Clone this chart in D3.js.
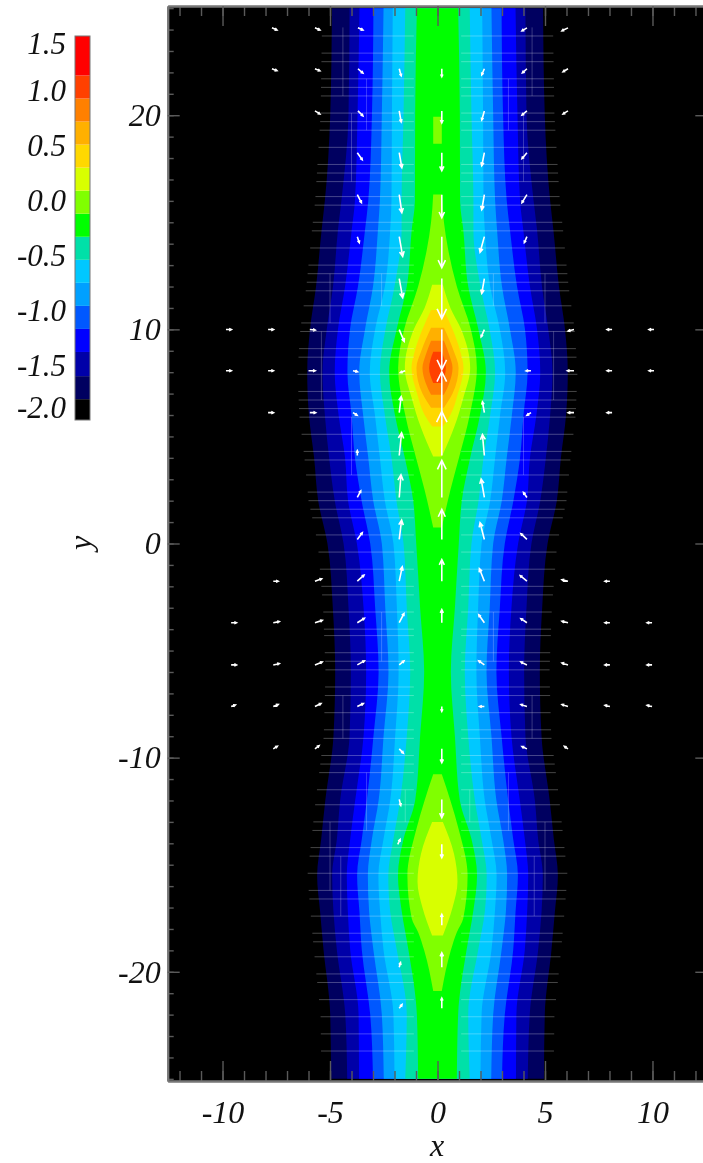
<!DOCTYPE html>
<html>
<head>
<meta charset="utf-8">
<script src="https://cdn.jsdelivr.net/npm/d3@7"></script>
<style>
  html, body { margin: 0; padding: 0; background: #fff; overflow: hidden; }
  svg { display: block; filter: blur(0.45px); }
  text { font-family: "Liberation Serif", serif; font-style: italic; fill: #111; }
</style>
</head>
<body>
<div id="chart"></div>
<script>
// Colour levels of the bar (lower edges of each band, then the top value)
const levelEdges = [-2, -1.81, -1.60, -1.38, -1.17, -0.96, -0.75, -0.54, -0.33, -0.12, 0.09, 0.30, 0.51, 0.72, 0.93, 1.14, 1.5];
const levelColors = ["#000000", "#000060", "#0000a8", "#0000ff", "#0058ff", "#00a0ff", "#00c8ff", "#00e0a8",
  "#00ff00", "#80ff00", "#d8ff00", "#ffd800", "#ffb000", "#ff8000", "#ff4000", "#ff0000"];
const colorTicks = [-2, -1.5, -1, -0.5, 0, 0.5, 1, 1.5];

// Contours running the whole height: half width at each row
const rowY = [25, 20, 16, 14.65, 12, 10, 8, 6, 4, 2, 0, -3, -6, -9, -12, -13.8, -15.5, -17.2, -19, -22, -25];
const edge1 = [4.91, 4.99, 5.24, 5.39, 5.65, 5.93, 6.06, 5.98, 5.74, 5.55, 5.12, 4.87, 4.76, 4.84, 5.22, 5.41, 5.60, 5.46, 5.30, 4.99, 4.95];
const edge2 = [4.09, 4.14, 4.47, 4.63, 4.86, 5.15, 5.35, 5.24, 5.04, 4.78, 4.37, 4.14, 4.03, 4.09, 4.53, 4.68, 4.90, 4.84, 4.68, 4.29, 4.20];
const edge3 = [3.63, 3.72, 3.84, 3.99, 4.30, 4.63, 4.78, 4.60, 4.30, 4.16, 3.75, 3.44, 3.32, 3.44, 3.83, 4.06, 4.22, 4.17, 4.06, 3.67, 3.65];
const edge4 = [2.98, 3.05, 3.22, 3.37, 3.70, 4.07, 4.19, 4.00, 3.84, 3.53, 3.13, 2.90, 2.74, 2.98, 3.29, 3.52, 3.74, 3.63, 3.52, 3.13, 3.00];
const edge5 = [2.51, 2.59, 2.68, 2.77, 3.00, 3.37, 3.64, 3.46, 3.22, 2.99, 2.59, 2.43, 2.28, 2.51, 2.74, 3.05, 3.24, 3.18, 2.98, 2.59, 2.50];
const edge6 = [2.08, 2.12, 2.14, 2.20, 2.45, 2.90, 3.15, 2.91, 2.68, 2.45, 2.05, 1.89, 1.81, 1.97, 2.20, 2.51, 2.75, 2.67, 2.51, 2.05, 2.00];
const edge7 = [1.50, 1.58, 1.67, 1.67, 2.00, 2.42, 2.68, 2.45, 2.14, 1.91, 1.58, 1.43, 1.27, 1.43, 1.74, 2.05, 2.29, 2.20, 1.89, 1.43, 1.50];
const edge8 = [0.96, 1.04, 1.05, 1.20, 1.43, 1.90, 2.25, 1.98, 1.52, 1.13, 0.99, 0.81, 0.62, 0.81, 1.04, 1.58, 1.84, 1.66, 1.35, 0.96, 0.90];

// Closed contours in the middle: rows and half widths
const lime1Y = [19.93, 18.67];
const lime1W = [0.2, 0.2];
const lime2Y = [16.3, 15, 13.7, 12, 10, 8.2, 6, 4, 2.5, 0.75];
const lime2W = [0.2, 0.3, 0.5, 0.9, 1.55, 1.83, 1.5, 1.0, 0.6, 0.2];
const lime3Y = [-10.78, -12, -13.4, -15.5, -17.5, -18.15, -19, -20.9];
const lime3W = [0.2, 0.6, 1.0, 1.4, 1.2, 0.9, 0.62, 0.2];
const yellow1Y = [12.08, 11, 10, 8.2, 6.8, 5.5, 4.06];
const yellow1W = [0.25, 0.6, 1.1, 1.52, 1.2, 0.8, 0.2];
const yellow2Y = [-13, -14.5, -15.8, -17, -18.3];
const yellow2W = [0.25, 0.77, 0.93, 0.7, 0.25];
const goldY = [10.9, 10, 9, 8.2, 7, 6, 5.46];
const goldW = [0.3, 0.7, 1.05, 1.21, 0.95, 0.6, 0.25];
const amberY = [10.08, 9, 8.2, 7, 6.34];
const amberW = [0.3, 0.75, 0.98, 0.7, 0.3];
const orangeY = [9.47, 8.8, 8.2, 7.5, 6.95];
const orangeW = [0.3, 0.55, 0.7, 0.55, 0.3];
const redY = [8.96, 8.2, 7.5];
const redW = [0.2, 0.39, 0.2];

// Arrows by row: tail y, tail x, and the vector in data units
const arrowY = [24.08, 22.17, 20.2, 18.25, 16.29, 14.33, 12.37, 9.99, 8.07, 6.11, 4.11, 2.15, 0.19, -1.76, -3.7, -5.67, -7.61, -9.59, -11.95, -14.05, -17.83, -19.79, -21.7];
const arrowX = [
  [-7.7, -5.7, -3.7, 4.16, 6.07],
  [-7.7, -5.7, -3.7, -1.78, 0.2, 2.18, 4.16, 6.07],
  [-5.7, -3.7, -1.78, 0.2, 2.18, 4.16, 6.07],
  [-3.73, -1.78, 0.2, 2.18, 4.16],
  [-3.73, -1.78, 0.2, 2.18, 4.16],
  [-3.73, -1.78, 0.2, 2.18, 4.16],
  [-1.78, 0.2, 2.18],
  [-9.84, -7.88, -5.94, -1.78, 0.2, 2.18, 6.35, 8.12, 10.07],
  [-9.84, -7.88, -6.0, -3.93, -1.5, 4.35, 6.35, 8.12, 10.07],
  [-7.88, -5.94, -3.93, -1.78, 0.2, 2.18, 4.35, 6.35, 8.12],
  [-3.73, -1.78, 0.2, 2.18],
  [-3.73, -1.78, 0.2, 2.18, 4.16],
  [-3.73, -1.78, 0.2, 2.18, 4.16],
  [-7.64, -5.7, -3.73, -1.78, 0.2, 2.18, 4.16, 6.07, 8.02],
  [-9.6, -7.64, -5.7, -3.73, -1.78, 0.2, 2.18, 4.16, 6.07, 8.02, 9.98],
  [-9.6, -7.64, -5.7, -3.73, -1.78, 2.18, 4.16, 6.07, 8.02, 9.98],
  [-9.6, -7.64, -5.7, -3.73, 0.2, 2.18, 4.16, 6.07, 8.02, 9.98],
  [-7.64, -5.7, -1.78, 0.2, 4.16, 6.07],
  [-1.78, 0.2],
  [-1.85, 0.2],
  [0.2],
  [-1.78, 0.2],
  [-1.78, 0.2]
];
const arrowU = [
  [0.23, 0.23, 0.23, -0.23, -0.28],
  [0.23, 0.23, 0.23, 0.09, 0, -0.12, -0.21, -0.23],
  [0.23, 0.23, 0.09, 0, -0.12, -0.23, -0.23],
  [0.23, 0.12, 0, -0.12, -0.23],
  [0.19, 0.12, 0, -0.12, -0.23],
  [0.09, 0.16, 0, -0.2, -0.12],
  [0.16, 0, -0.12],
  [0.25, 0.25, 0.25, 0.23, 0, -0.15, -0.27, -0.23, -0.23],
  [0.25, 0.25, 0.31, 0.21, -0.23, -0.23, -0.31, -0.23, -0.23],
  [0.25, 0.27, 0.19, 0.09, 0, -0.09, -0.19, -0.27, -0.23],
  [0, 0.11, 0, -0.09],
  [0.16, 0.08, 0, -0.15, -0.16],
  [0.23, 0.11, 0, -0.2, -0.28],
  [0.23, 0.31, 0.31, 0.14, 0, -0.23, -0.31, -0.28, -0.23],
  [0.25, 0.28, 0.34, 0.33, 0.22, 0, -0.26, -0.28, -0.28, -0.23, -0.23],
  [0.25, 0.28, 0.34, 0.33, 0.22, -0.26, -0.28, -0.28, -0.23, -0.23],
  [0.2, 0.23, 0.28, 0.28, 0, -0.22, -0.28, -0.28, -0.23, -0.23],
  [0.19, 0.19, 0.19, 0, -0.23, -0.17],
  [0.07, 0],
  [0.11, 0],
  [0],
  [0.06, 0],
  [0.13, 0]
];
const arrowV = [
  [-0.1, -0.1, -0.1, -0.14, -0.14],
  [-0.09, -0.1, -0.2, -0.33, -0.37, -0.28, -0.19, -0.14],
  [-0.14, -0.23, -0.51, -0.56, -0.42, -0.19, -0.14],
  [-0.33, -0.7, -0.84, -0.61, -0.28],
  [-0.37, -0.84, -1.07, -0.7, -0.37],
  [-0.28, -0.92, -1.45, -0.73, -0.28],
  [-0.89, -1.87, -0.69],
  [0, 0, -0.02, -0.55, -1.87, -0.34, -0.07, 0, 0],
  [0, 0, 0, -0.05, -0.09, -0.01, 0, 0, 0],
  [0, 0, -0.12, 0.75, 1.91, 0.51, -0.12, 0, 0],
  [0.23, 1.06, 2.06, 0.98],
  [0.31, 1.06, 1.73, 0.86, 0.23],
  [0.31, 0.9, 1.4, 0.78, 0.27],
  [0, 0.11, 0.28, 0.67, 1.01, 0.58, 0.26, 0.07, 0],
  [0, 0.05, 0.11, 0.21, 0.43, 0.61, 0.37, 0.19, 0.07, 0, 0],
  [0, 0.06, 0.14, 0.19, 0.19, 0.19, 0.14, 0.09, 0, 0],
  [0.07, 0.09, 0.14, 0.14, -0.23, 0, 0.09, 0.09, 0.05, 0.05],
  [0.12, 0.15, -0.2, -0.65, 0.11, 0.12],
  [-0.28, -0.85],
  [0.23, -0.62],
  [0.51],
  [0.22, 0.67],
  [0.17, 0.47]
];

// Faint mesh lines
const meshY = [23.7, 22.9, 22.5, 21.7, 21.3, 20.9, 20.1, 19.7, 19.3, 18.5, 17.7, 17.3, 16.9, 16.2, 15.8, 15.0, 14.6, 13.8,
  13.0, 12.6, 12.2, 11.8, 11.1, 10.3, 9.9, 9.1, 8.7, 7.9, 7.1, 6.7, 6.3, 5.9, 5.1, 4.3, 3.9, 3.2, 2.4, 2.0, 1.6, 1.2, 0.4,
  -0.4, -1.2, -2.0, -2.4, -3.2, -4.0, -4.3, -5.1, -5.5, -5.9, -6.7, -7.1, -7.9, -8.7, -9.1, -9.9, -10.3, -10.7,
  -11.5, -12.2, -13.0, -13.4, -14.2, -14.6, -15.4, -16.2, -16.6, -17.4, -18.2, -18.6, -19.3, -20.1, -20.5, -21.3, -22.1, -22.9, -23.7];
const meshSegX = [1.5, 2.6, 2.6, 3.3, 3.3, 4.0, 4.0, 4.4, 4.5, 4.4, 5.0, 5.4, 5.0];
const meshSegTop = [-11.5, 12.6, -3.2, 21.7, -10.7, 20.1, 5.9, 24.1, -14.6, -7.1, 12.6, 9.9, -13.0];
const meshSegBottom = [-13.0, 11.1, -5.5, 19.3, -13.4, 16.9, 3.2, 20.9, -17.4, -9.1, 10.3, 6.7, -16.2];

const width = 703;
const height = 1163;

const svg = d3.select("#chart").append("svg")
  .attr("width", width)
  .attr("height", height);

const x = d3.scaleLinear().domain([-12.55, 12.55]).range([167.7, 707.3]);
const y = d3.scaleLinear().domain([-25.1, 25.1]).range([1081, 6]);

svg.append("clipPath").attr("id", "plot-clip")
  .append("rect")
  .attr("x", x(-12.55)).attr("y", y(25.1))
  .attr("width", x(12.55) - x(-12.55)).attr("height", y(-25.1) - y(25.1));

const plot = svg.append("g").attr("clip-path", "url(#plot-clip)");

plot.append("rect")
  .attr("x", x(-12.55)).attr("y", y(25.1))
  .attr("width", x(12.55) - x(-12.55)).attr("height", y(-25.1) - y(25.1))
  .attr("fill", levelColors[0]);

// Each contour is a filled area, outermost first
const lens = d3.area()
  .curve(d3.curveMonotoneY)
  .y(d => y(d[0]))
  .x0(d => x(-d[1]))
  .x1(d => x(d[1]));

function addContour(ys, ws, color) {
  plot.append("path")
    .attr("d", lens(d3.zip(ys, ws)))
    .attr("fill", color);
}

[edge1, edge2, edge3, edge4, edge5, edge6, edge7, edge8].forEach((edge, i) => {
  addContour(rowY, edge, levelColors[i + 1]);
});
addContour(lime1Y, lime1W, levelColors[9]);
addContour(lime2Y, lime2W, levelColors[9]);
addContour(lime3Y, lime3W, levelColors[9]);
addContour(yellow1Y, yellow1W, levelColors[10]);
addContour(yellow2Y, yellow2W, levelColors[10]);
addContour(goldY, goldW, levelColors[11]);
addContour(amberY, amberW, levelColors[12]);
addContour(orangeY, orangeW, levelColors[13]);
addContour(redY, redW, levelColors[14]);

// Mesh: horizontal lines reach a little past the outer contour, and stop short of the centre
const outerEdge = d3.scaleLinear().domain(rowY).range(edge1);
[-1, 1].forEach(side => {
  plot.append("g").selectAll("line")
    .data(meshY)
    .enter().append("line")
    .attr("x1", d => x(side * (outerEdge(d) + 0.45)))
    .attr("x2", x(side * 1.1))
    .attr("y1", d => y(d))
    .attr("y2", d => y(d))
    .attr("stroke", "#fff")
    .attr("stroke-opacity", 0.27)
    .attr("stroke-width", 1);

  plot.append("g").selectAll("line")
    .data(d3.range(meshSegX.length))
    .enter().append("line")
    .attr("x1", i => x(side * meshSegX[i]))
    .attr("x2", i => x(side * meshSegX[i]))
    .attr("y1", i => y(meshSegTop[i]))
    .attr("y2", i => y(meshSegBottom[i]))
    .attr("stroke", "#fff")
    .attr("stroke-opacity", 0.22)
    .attr("stroke-width", 1);
});

// Arrows: shaft and an open head
const arrows = [];
arrowY.forEach((rowValue, r) => {
  arrowX[r].forEach((xValue, c) => {
    arrows.push({ x0: xValue, y0: rowValue, u: arrowU[r][c], v: arrowV[r][c] });
  });
});

function arrowPath(d) {
  const xa = x(d.x0), ya = y(d.y0);
  const xb = x(d.x0 + d.u), yb = y(d.y0 + d.v);
  const len = Math.hypot(xb - xa, yb - ya);
  const ang = Math.atan2(yb - ya, xb - xa);
  const head = Math.max(2.5, len * 0.27);
  const p = d3.path();
  p.moveTo(xa, ya);
  p.lineTo(xb, yb);
  p.moveTo(xb - head * Math.cos(ang - 0.45), yb - head * Math.sin(ang - 0.45));
  p.lineTo(xb, yb);
  p.lineTo(xb - head * Math.cos(ang + 0.45), yb - head * Math.sin(ang + 0.45));
  return p.toString();
}

plot.append("g").selectAll("path")
  .data(arrows)
  .enter().append("path")
  .attr("d", arrowPath)
  .attr("fill", "none")
  .attr("stroke", "#fff")
  .attr("stroke-width", 1.6);

// Axes, all ticks inward
const tickColor = "#5a5a5a";
const hyphen = d3.format("d");
const plainLabel = d => hyphen(d).replace("−", "-");

function styleAxis(g) {
  g.selectAll(".domain").attr("stroke", "#777").attr("stroke-width", 2);
  g.selectAll(".tick line").attr("stroke", tickColor).attr("stroke-width", 1.4);
  g.selectAll("text")
    .attr("font-size", 32)
    .style("font-family", '"Liberation Serif", serif')
    .style("font-style", "italic")
    .attr("fill", "#111");
}

const xMinor = d3.range(-12, 13);
const yMinor = d3.range(-25, 26);
const xMajor = [-10, -5, 0, 5, 10];
const yMajor = [-20, -10, 0, 10, 20];

svg.append("g").attr("transform", `translate(0,${y(-25.1)})`)
  .call(d3.axisBottom(x).tickValues(xMinor).tickSize(-10).tickSizeOuter(0).tickFormat(""))
  .call(styleAxis);
svg.append("g").attr("transform", `translate(0,${y(-25.1)})`)
  .call(d3.axisBottom(x).tickValues(xMajor).tickSize(-20).tickSizeOuter(0).tickPadding(19).tickFormat(plainLabel))
  .call(styleAxis);
svg.append("g").attr("transform", `translate(0,${y(25.1)})`)
  .call(d3.axisTop(x).tickValues(xMinor).tickSize(-10).tickSizeOuter(0).tickFormat(""))
  .call(styleAxis);
svg.append("g").attr("transform", `translate(0,${y(25.1)})`)
  .call(d3.axisTop(x).tickValues(xMajor).tickSize(-20).tickSizeOuter(0).tickFormat(""))
  .call(styleAxis);
svg.append("g").attr("transform", `translate(${x(-12.55)},0)`)
  .call(d3.axisLeft(y).tickValues(yMinor).tickSize(-6).tickSizeOuter(0).tickFormat(""))
  .call(styleAxis);
svg.append("g").attr("transform", `translate(${x(-12.55)},0)`)
  .call(d3.axisLeft(y).tickValues(yMajor).tickSize(-12).tickSizeOuter(0).tickPadding(7).tickFormat(plainLabel))
  .call(styleAxis);
svg.append("g").attr("transform", `translate(${x(12.55)},0)`)
  .call(d3.axisRight(y).tickValues(yMajor).tickSize(-12).tickSizeOuter(0).tickFormat(""))
  .call(styleAxis);

svg.append("text").attr("x", 437).attr("y", 1156).attr("text-anchor", "middle").attr("font-size", 32).text("x");
svg.append("text").attr("transform", "translate(91,543) rotate(-90)").attr("text-anchor", "middle").attr("font-size", 32).text("y");

// Colour bar
const colorY = d3.scaleLinear().domain([-2, 1.5]).range([420, 36]);
const bar = svg.append("g");
bar.selectAll("rect")
  .data(levelColors)
  .enter().append("rect")
  .attr("x", 75)
  .attr("width", 15)
  .attr("y", (d, i) => colorY(levelEdges[i + 1]))
  .attr("height", (d, i) => colorY(levelEdges[i]) - colorY(levelEdges[i + 1]))
  .attr("fill", d => d);
bar.append("rect")
  .attr("x", 75).attr("y", colorY(1.5)).attr("width", 15).attr("height", colorY(-2) - colorY(1.5))
  .attr("fill", "none").attr("stroke", "#777").attr("stroke-width", 1);

const barAxis = svg.append("g").attr("transform", "translate(75,0)")
  .call(d3.axisLeft(colorY).tickValues(colorTicks).tickSize(0).tickPadding(9)
    .tickFormat(d => d3.format(".1f")(d).replace("−", "-")));
barAxis.select(".domain").remove();
barAxis.selectAll("text")
  .attr("font-size", 31)
  .style("font-family", '"Liberation Serif", serif')
  .style("font-style", "italic")
  .attr("fill", "#111")
  .attr("transform", d => d === -2 ? "translate(0,-12)" : d === 1.5 ? "translate(0,8)" : null);
</script>
</body>
</html>
